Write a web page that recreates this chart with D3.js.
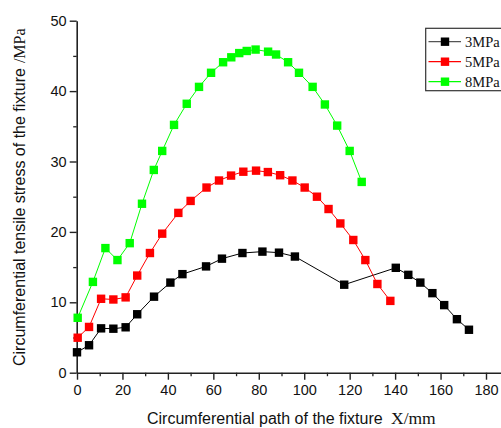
<!DOCTYPE html>
<html><head><meta charset="utf-8">
<script src="https://cdn.jsdelivr.net/npm/d3@7"></script>
<style>
body{margin:0;background:#fff;}
svg{display:block;}
</style></head>
<body>
<svg id="c" width="501" height="428"></svg>
<script>
const seriesNames = ["3MPa", "5MPa", "8MPa"];
const seriesColors = ["#000000", "#ff0000", "#00ff00"];
const x3 = [0, 5.3, 10.6, 16, 21.4, 26.5, 33.9, 41.1, 46.4, 56.8, 63.8, 72.8, 81.6, 88.9, 95.9, 117.6, 140.3, 145.8, 151.1, 156.4, 161.6, 167.2, 172.5];
const y3 = [2.9, 3.9, 6.3, 6.25, 6.45, 8.3, 10.8, 12.8, 14.0, 15.1, 16.2, 17.0, 17.2, 17.05, 16.5, 12.5, 14.9, 13.9, 12.8, 11.3, 9.6, 7.6, 6.1];
const x5 = [0.3, 5.3, 10.6, 16, 21.4, 26.5, 32.1, 37.5, 44.6, 50, 57, 62.5, 67.8, 73.2, 78.8, 84, 89.4, 94.8, 100.2, 105.6, 110.7, 115.9, 121.6, 126.9, 132.2, 137.9];
const y5 = [4.97, 6.5, 10.5, 10.4, 10.7, 13.8, 17.0, 19.75, 22.7, 24.4, 26.3, 27.3, 28.0, 28.55, 28.7, 28.5, 28.05, 27.3, 26.3, 25.0, 23.25, 21.2, 18.85, 16.0, 12.6, 10.2];
const x8 = [0.3, 7.0, 12.5, 17.8, 23.2, 28.6, 33.8, 37.5, 42.7, 48.3, 53.7, 59, 64.3, 67.9, 71.4, 74.7, 78.6, 84.1, 87.6, 92.9, 97.7, 103.7, 109.1, 114.5, 120, 125.3];
const y8 = [7.8, 12.9, 17.7, 16.0, 18.4, 24.0, 28.8, 31.5, 35.2, 38.2, 40.6, 42.6, 44.1, 44.8, 45.4, 45.7, 45.9, 45.6, 45.2, 44.1, 42.6, 40.6, 38.1, 35.1, 31.5, 27.1];
const xMajor = [0, 20, 40, 60, 80, 100, 120, 140, 160, 180];
const xMinor = [10, 30, 50, 70, 90, 110, 130, 150, 170];
const yMajor = [0, 10, 20, 30, 40, 50];
const yMinor = [5, 15, 25, 35, 45];

const series = [
  {name: seriesNames[0], color: seriesColors[0], pts: x3.map((v,i)=>[v,y3[i]])},
  {name: seriesNames[1], color: seriesColors[1], pts: x5.map((v,i)=>[v,y5[i]])},
  {name: seriesNames[2], color: seriesColors[2], pts: x8.map((v,i)=>[v,y8[i]])}
];

const svg = d3.select("#c");
const x = d3.scaleLinear().domain([0, 186.6]).range([77, 501]);
const y = d3.scaleLinear().domain([0, 50]).range([372.7, 20.7]);

// minor ticks
svg.append("g").attr("transform","translate(0,372.7)")
  .call(d3.axisBottom(x).tickValues(xMinor).tickSize(3.5).tickFormat("").tickSizeOuter(0))
  .call(g=>g.select(".domain").remove())
  .selectAll("line").attr("stroke","#222").attr("stroke-width",1.3);
svg.append("g").attr("transform","translate(76.7,0)")
  .call(d3.axisLeft(y).tickValues(yMinor).tickSize(3.5).tickFormat("").tickSizeOuter(0))
  .call(g=>g.select(".domain").remove())
  .selectAll("line").attr("stroke","#222").attr("stroke-width",1.3);

const xa = svg.append("g").attr("transform","translate(0,372.7)")
  .call(d3.axisBottom(x).tickValues(xMajor).tickSize(7).tickSizeOuter(0).tickPadding(5));
const ya = svg.append("g").attr("transform","translate(76.7,0)")
  .call(d3.axisLeft(y).tickValues(yMajor).tickSize(7).tickSizeOuter(0).tickPadding(3));
[xa, ya].forEach(a=>{
  a.select(".domain").attr("stroke","#222").attr("stroke-width",1.6);
  a.selectAll(".tick line").attr("stroke","#222").attr("stroke-width",1.4);
  a.selectAll(".tick text").attr("fill","#111").style("font-family","Arial, 'Liberation Sans', sans-serif").style("font-size","14.5px");
});

const line = d3.line().x(d=>x(d[0])).y(d=>y(d[1]));
const ms = 8.4;
series.forEach(s=>{
  svg.append("path").attr("d", line(s.pts)).attr("fill","none").attr("stroke", s.color).attr("stroke-width",1);
  svg.append("g").selectAll("rect").data(s.pts).join("rect")
    .attr("x", d=>x(d[0])-ms/2).attr("y", d=>y(d[1])-ms/2)
    .attr("width", ms).attr("height", ms).attr("fill", s.color);
});

// legend
const lg = svg.append("g");
lg.append("rect").attr("x",425.7).attr("y",28.3).attr("width",80).attr("height",62.4)
  .attr("fill","#fff").attr("stroke","#333").attr("stroke-width",1.2);
series.forEach((s,i)=>{
  const cy = 41.7 + i*20;
  lg.append("line").attr("x1",428.5).attr("x2",461).attr("y1",cy).attr("y2",cy).attr("stroke", i===0?"#555":s.color).attr("stroke-width",1.2);
  lg.append("rect").attr("x",445-4.2).attr("y",cy-4.2).attr("width",8.4).attr("height",8.4).attr("fill",s.color);
  lg.append("text").attr("x",465).attr("y",cy+5).text(s.name)
    .style("font-family","'Liberation Serif', 'Times New Roman', serif").style("font-size","14.5px").attr("fill","#111");
});

// axis titles
const xt = svg.append("text").attr("x",147).attr("y",424).attr("fill","#111")
  .style("font-family","Arial, 'Liberation Sans', sans-serif").style("font-size","16px");
xt.append("tspan").text("Circumferential path of the fixture");
xt.append("tspan").attr("x",391).style("font-family","'Liberation Serif', serif").style("font-size","17.5px").text("X/mm");

const yt = svg.append("text").attr("transform","translate(25,366) rotate(-90)").attr("x",0).attr("y",0).attr("fill","#111")
  .style("font-family","Arial, 'Liberation Sans', sans-serif").style("font-size","16px");
yt.append("tspan").text("Circumferential tensile stress of the fixture");
yt.append("tspan").attr("dx",5).style("font-family","'Liberation Serif', serif").text("/MPa");
</script>
</body></html>
